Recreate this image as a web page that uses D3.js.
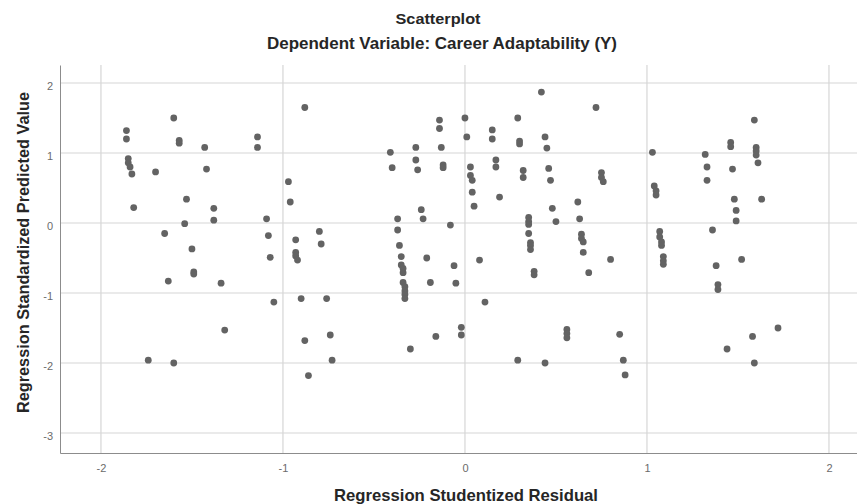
<!DOCTYPE html>
<html>
<head>
<meta charset="utf-8">
<script src="https://cdn.jsdelivr.net/npm/d3@7"></script>
<style>
  body { margin: 0; background: #fff; }
  text { font-family: "Liberation Sans", Arial, sans-serif; }
</style>
</head>
<body>
<div id="chart"></div>
<script>
// values
const residual = [
  -1.60, -1.86, -1.86, -1.57, -1.57, -1.43, -1.14, -1.14, -1.85, -1.85,
  -1.84, -1.83, -1.70, -1.42, -0.97, -0.96, -1.53, -1.82, -1.38, -1.38,
  -1.54, -1.09, -1.65, -1.08, -1.50, -1.07, -1.49, -1.49, -1.63, -1.34,
  -1.05, -1.32, -1.74, -1.60, -0.88, -0.93, -0.93, -0.93, -0.92, -0.80,
  -0.79, -0.90, -0.76, -0.88, -0.74, -0.73, -0.86, -0.41, -0.40, -0.27,
  -0.27, -0.26, -0.14, -0.14, -0.13, -0.12, -0.12, 0.00, 0.01, 0.03,
  0.03, 0.04, 0.04, 0.05, -0.24, -0.23, -0.37, -0.37, -0.36, -0.35,
  -0.35, -0.34, -0.34, -0.34, -0.33, -0.33, -0.33, -0.33, -0.21, -0.19,
  -0.08, -0.06, -0.05, 0.08, -0.30, -0.16, -0.02, -0.02, 0.11, 0.15,
  0.15, 0.17, 0.17, 0.19, 0.29, 0.30, 0.30, 0.32, 0.32, 0.42,
  0.44, 0.45, 0.46, 0.47, 0.48, 0.50, 0.35, 0.35, 0.35, 0.35,
  0.36, 0.36, 0.36, 0.38, 0.38, 0.29, 0.44, 0.56, 0.56, 0.56,
  0.62, 0.63, 0.64, 0.64, 0.65, 0.65, 0.68, 0.72, 0.75, 0.75,
  0.76, 0.80, 0.85, 0.87, 0.88, 1.03, 1.04, 1.05, 1.05, 1.07,
  1.07, 1.08, 1.08, 1.09, 1.09, 1.09, 1.32, 1.33, 1.33, 1.46,
  1.46, 1.47, 1.48, 1.49, 1.49, 1.36, 1.38, 1.39, 1.39, 1.52,
  1.59, 1.60, 1.60, 1.60, 1.61, 1.63, 1.72, 1.58, 1.44, 1.59
];
const predicted = [
  1.50, 1.32, 1.20, 1.18, 1.14, 1.08, 1.23, 1.08, 0.92, 0.86,
  0.80, 0.70, 0.73, 0.77, 0.59, 0.30, 0.34, 0.22, 0.21, 0.04,
  -0.01, 0.06, -0.15, -0.18, -0.37, -0.49, -0.70, -0.73, -0.83, -0.86,
  -1.13, -1.53, -1.96, -2.00, 1.65, -0.24, -0.42, -0.47, -0.53, -0.12,
  -0.30, -1.08, -1.08, -1.68, -1.60, -1.96, -2.18, 1.01, 0.79, 1.08,
  0.90, 0.76, 1.47, 1.35, 1.08, 0.83, 0.79, 1.50, 1.23, 0.80,
  0.68, 0.61, 0.44, 0.24, 0.19, 0.06, 0.06, -0.10, -0.32, -0.48,
  -0.60, -0.65, -0.71, -0.85, -0.91, -0.97, -1.02, -1.08, -0.50, -0.85,
  -0.03, -0.61, -0.86, -0.53, -1.80, -1.62, -1.49, -1.60, -1.13, 1.33,
  1.20, 0.90, 0.80, 0.37, 1.50, 1.17, 1.13, 0.75, 0.65, 1.87,
  1.23, 1.07, 0.78, 0.61, 0.21, 0.02, 0.08, 0.02, -0.02, -0.15,
  -0.28, -0.32, -0.38, -0.69, -0.74, -1.96, -2.00, -1.52, -1.58, -1.64,
  0.30, 0.06, -0.16, -0.22, -0.27, -0.42, -0.71, 1.65, 0.72, 0.65,
  0.59, -0.52, -1.59, -1.96, -2.17, 1.01, 0.53, 0.46, 0.40, -0.12,
  -0.20, -0.27, -0.32, -0.48, -0.54, -0.59, 0.98, 0.80, 0.61, 1.15,
  1.09, 0.77, 0.34, 0.18, 0.03, -0.10, -0.61, -0.88, -0.95, -0.52,
  1.47, 1.08, 1.03, 0.97, 0.86, 0.34, -1.50, -1.62, -1.80, -2.00
];
const xTicks = [-2, -1, 0, 1, 2];
const yTicks = [2, 1, 0, -1, -2, -3];

const data = residual.map((r, i) => ({x: r, y: predicted[i]}));

// set the dimensions and margins of the graph
const margin = {top: 65, right: 0, bottom: 51, left: 60},
  width = 857 - margin.left - margin.right,
  height = 504 - margin.top - margin.bottom;

const svg = d3.select("#chart")
  .append("svg")
  .attr("width", width + margin.left + margin.right)
  .attr("height", height + margin.top + margin.bottom)
  .append("g")
  .attr("transform", `translate(${margin.left},${margin.top})`);

const x = d3.scaleLinear()
  .domain([-2.225, 2.154])
  .range([0, width]);

const y = d3.scaleLinear()
  .domain([-3.286, 2.257])
  .range([height, 0]);

// grid lines
svg.append("g")
  .selectAll("line.vgrid")
  .data(xTicks)
  .join("line")
  .attr("x1", d => x(d)).attr("x2", d => x(d))
  .attr("y1", 0).attr("y2", height)
  .attr("stroke", "#d6d6d6")
  .attr("stroke-width", 1.2);

svg.append("g")
  .selectAll("line.hgrid")
  .data(yTicks)
  .join("line")
  .attr("x1", 0).attr("x2", width)
  .attr("y1", d => y(d)).attr("y2", d => y(d))
  .attr("stroke", "#d6d6d6")
  .attr("stroke-width", 1.2);

// plain hyphen minus, like the reference
const fmt = d => String(d);

// X axis
const xAxis = svg.append("g")
  .attr("transform", `translate(0, ${height})`)
  .call(d3.axisBottom(x).tickValues(xTicks).tickFormat(fmt).tickSize(0).tickPadding(11));
xAxis.select(".domain").attr("stroke", "#8c8c8c");
xAxis.selectAll("text").attr("fill", "#6b6b6b").style("font-size", "11px");

// Y axis
const yAxis = svg.append("g")
  .call(d3.axisLeft(y).tickValues(yTicks).tickFormat(fmt).tickSize(0).tickPadding(7));
yAxis.select(".domain").attr("stroke", "#8c8c8c");
yAxis.selectAll("text").attr("fill", "#6b6b6b").style("font-size", "11px").attr("dy", "0.62em");

// points
svg.selectAll("circle")
  .data(data)
  .join("circle")
  .attr("cx", d => x(d.x))
  .attr("cy", d => y(d.y))
  .attr("r", 3.4)
  .attr("fill", "#636363");

// titles
const root = d3.select("#chart svg");
root.append("text")
  .attr("x", 438).attr("y", 23.5)
  .attr("text-anchor", "middle")
  .attr("textLength", 85).attr("lengthAdjust", "spacingAndGlyphs")
  .style("font-size", "15px").style("font-weight", "bold").attr("fill", "#262626")
  .text("Scatterplot");
root.append("text")
  .attr("x", 442).attr("y", 49)
  .attr("text-anchor", "middle")
  .attr("textLength", 350).attr("lengthAdjust", "spacingAndGlyphs")
  .style("font-size", "17px").style("font-weight", "bold").attr("fill", "#262626")
  .text("Dependent Variable: Career Adaptability (Y)");
root.append("text")
  .attr("x", 466).attr("y", 501)
  .attr("text-anchor", "middle")
  .attr("textLength", 264).attr("lengthAdjust", "spacingAndGlyphs")
  .style("font-size", "17px").style("font-weight", "bold").attr("fill", "#262626")
  .text("Regression Studentized Residual");
root.append("text")
  .attr("transform", "translate(29, 252.5) rotate(-90)")
  .attr("text-anchor", "middle")
  .attr("textLength", 321).attr("lengthAdjust", "spacingAndGlyphs")
  .style("font-size", "17px").style("font-weight", "bold").attr("fill", "#262626")
  .text("Regression Standardized Predicted Value");
</script>
</body>
</html>
